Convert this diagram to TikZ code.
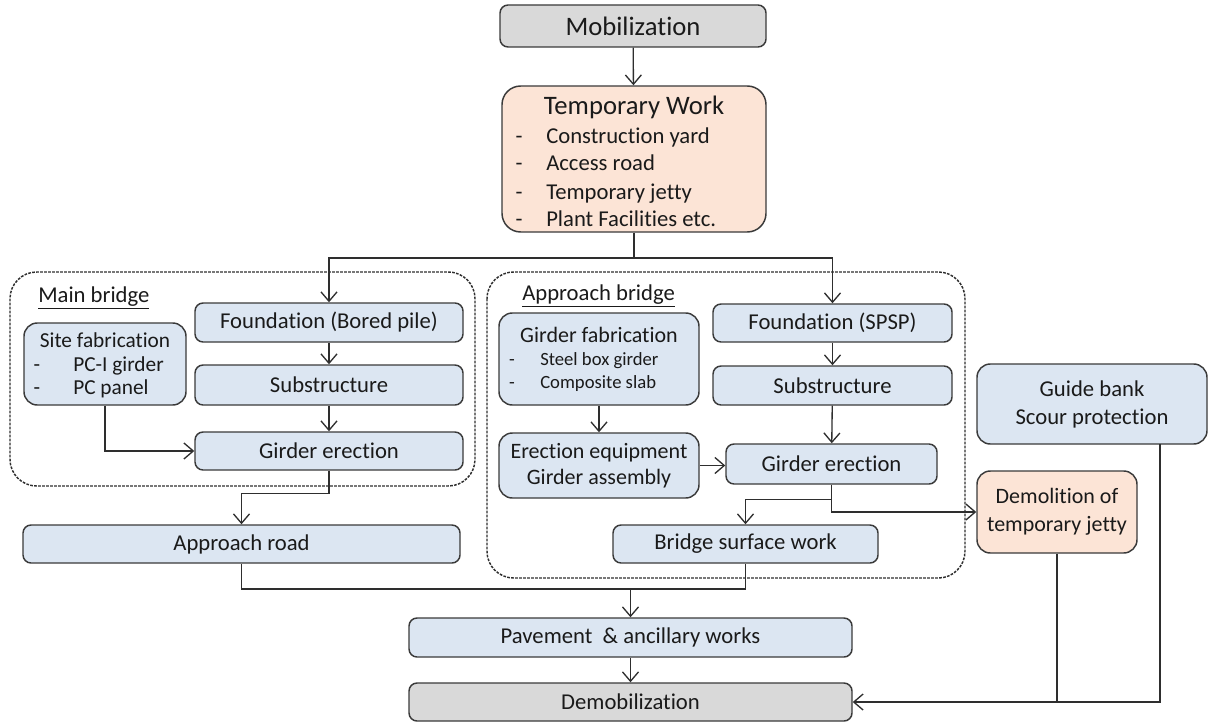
\documentclass[tikz,border=0pt]{standalone}
\usepackage{fontspec}
\setmainfont{Carlito}[Ligatures=NoCommon]
\usetikzlibrary{arrows.meta,calc}
\definecolor{bluef}{HTML}{DCE6F2}
\definecolor{grayf}{HTML}{D9D9D9}
\definecolor{peachf}{HTML}{FCE4D6}
\definecolor{bd}{HTML}{3A3A3A}
\definecolor{ln}{HTML}{2E2E2E}
\definecolor{txt}{HTML}{1A1A1A}
\tikzset{
  base/.style={draw=bd, line width=1.1pt, rounded corners=6pt, inner sep=0pt, text=txt,
    align=center, font=\fontsize{17}{21}\selectfont},
  bluebox/.style={base, fill=bluef},
  graybox/.style={base, fill=grayf},
  peachbox/.style={base, fill=peachf},
  wh/.style 2 args={minimum width=#1*0.75pt, minimum height=#2*0.75pt},
  lbl/.style={inner sep=0pt, text=txt, font=\fontsize{17}{21}\selectfont},
  mid/.style={inner sep=0pt, text=txt, font=\fontsize{16}{19}\selectfont},
  small/.style={inner sep=0pt, text=txt, font=\fontsize{14}{17}\selectfont},
  conn/.style={draw=ln, line width=1pt},
  arr/.style={conn, -{Straight Barb[length=7pt,width=12pt,line width=1pt]}},
  grp/.style={draw=ln, line width=1.1pt, dash pattern=on 2pt off 1pt, rounded corners=20pt}
}
\begin{document}
\begin{tikzpicture}[x=0.75pt,y=-0.75pt]
\useasboundingbox (0,0) rectangle (1210,724);

% group frames
\draw[grp] (10,272) rectangle (475,486);
\draw[grp] (487,272) rectangle (965,578);
\node[lbl, anchor=west] (mainlbl) at (38,298) {\underline{Main bridge}};
\node[lbl, anchor=west] (ablbl) at (522,296) {\underline{Approach bridge}};

% top
\node[graybox, wh={266}{42}, font=\fontsize{20}{24}\selectfont] (mob) at (633,26) {Mobilization};
\node[peachbox, wh={264}{146}, rounded corners=14pt] (temp) at (634,159) {};
\node[lbl, font=\fontsize{20}{24}\selectfont] (tt) at (634,107) {Temporary Work};
\node[lbl, anchor=base] (td1) at (519,143) {-};
\node[lbl, anchor=base west] (ti1) at (546,143) {Construction yard};
\node[lbl, anchor=base] (td2) at (519,170) {-};
\node[lbl, anchor=base west] (ti2) at (546,170) {Access road};
\node[lbl, anchor=base] (td3) at (519,199) {-};
\node[lbl, anchor=base west] (ti3) at (546,199) {Temporary jetty};
\node[lbl, anchor=base] (td4) at (519,226) {-};
\node[lbl, anchor=base west] (ti4) at (546,226) {Plant Facilities etc.};

% main bridge
\node[bluebox, wh={162}{82}, rounded corners=10pt] (sitefab) at (105,364) {};
\node[mid] (sft) at (105,340) {Site fabrication};
\node[mid, anchor=base] (sfd1) at (37,371) {-};
\node[mid, anchor=base west] (sfi1) at (73,371) {PC-I girder};
\node[mid, anchor=base] (sfd2) at (37,394) {-};
\node[mid, anchor=base west] (sfi2) at (73,394) {PC panel};
\node[bluebox, wh={268}{39}] (fnd1) at (329,322.5) {Foundation (Bored pile)};
\node[bluebox, wh={268}{40}] (sub1) at (329,385) {Substructure};
\node[bluebox, wh={268}{38}] (ge1) at (329,451) {Girder erection};
\node[bluebox, wh={437}{38}] (aroad) at (241.5,544) {Approach road};

% approach bridge
\node[bluebox, wh={200}{92}, rounded corners=10pt] (gfab) at (599,359) {};
\node[lbl, font=\fontsize{16.5}{19}\selectfont] (gft) at (599,335) {Girder fabrication};
\node[small, anchor=base] (gfd1) at (512,365) {-};
\node[small, anchor=base west] (gfi1) at (540,365) {Steel box girder};
\node[small, anchor=base] (gfd2) at (512,388) {-};
\node[small, anchor=base west] (gfi2) at (540,388) {Composite slab};
\node[bluebox, wh={200}{65}, rounded corners=10pt, font=\fontsize{16.5}{19.5}\selectfont] (ereq) at (599,465.5) {Erection equipment\\Girder assembly};
\node[bluebox, wh={239}{38}] (fnd2) at (832.5,323) {Foundation (SPSP)};
\node[bluebox, wh={239}{39}] (sub2) at (832.5,385.5) {Substructure};
\node[bluebox, wh={211}{40}] (ge2) at (831.5,464) {Girder erection};
\node[bluebox, wh={265}{38}] (bsw) at (745.5,544) {Bridge surface work};

% right side
\node[bluebox, wh={230}{80}, rounded corners=10pt] (guide) at (1092,404) {Guide bank\\Scour protection};
\node[peachbox, wh={160}{82}, rounded corners=10pt, font=\fontsize{16.5}{21}\selectfont] (demol) at (1057,512) {Demolition of\\temporary jetty};

% bottom
\node[bluebox, wh={443}{39}] (pave) at (630.5,637.5) {Pavement \ \& ancillary works};
\node[graybox, wh={443}{38}] (demob) at (630.5,702) {Demobilization};

% connectors
\draw[arr] (mob) -- (temp);
\coordinate (j1) at (634,258);
\draw[conn] (temp.south) -- (j1);
\draw[arr] (j1) -| (fnd1.north);
\draw[arr] (j1) -| (fnd2.north);
\draw[arr] (fnd1) -- (sub1);
\draw[arr] (sub1) -- (ge1);
\draw[arr] (sitefab.south) |- (ge1.west);
\draw[arr] (ge1.south) -- ++(0,23) -| (aroad.north);
\draw[arr] (gfab) -- (ereq);
\draw[arr] (ereq.east) -- (ge2.west |- ereq.east);
\draw[arr] (fnd2) -- (sub2);
\draw[arr] (sub2) -- (ge2);
\draw[arr] (ge2.south) -- ++(0,15) -| (bsw.north);
\draw[arr] (ge2.south) |- (demol.west);
\coordinate (j2) at (630.5,589);
\draw[conn] (aroad.south) |- (bsw.south |- j2) -- (bsw.south);
\draw[arr] (j2) -- (pave.north);
\draw[arr] (pave) -- (demob);
\coordinate (gout) at (1160,444);
\draw[arr] (gout) |- (demob.east);
\draw[conn] (demol.south) -- (demol.south |- demob.east);
\end{tikzpicture}
\end{document}
